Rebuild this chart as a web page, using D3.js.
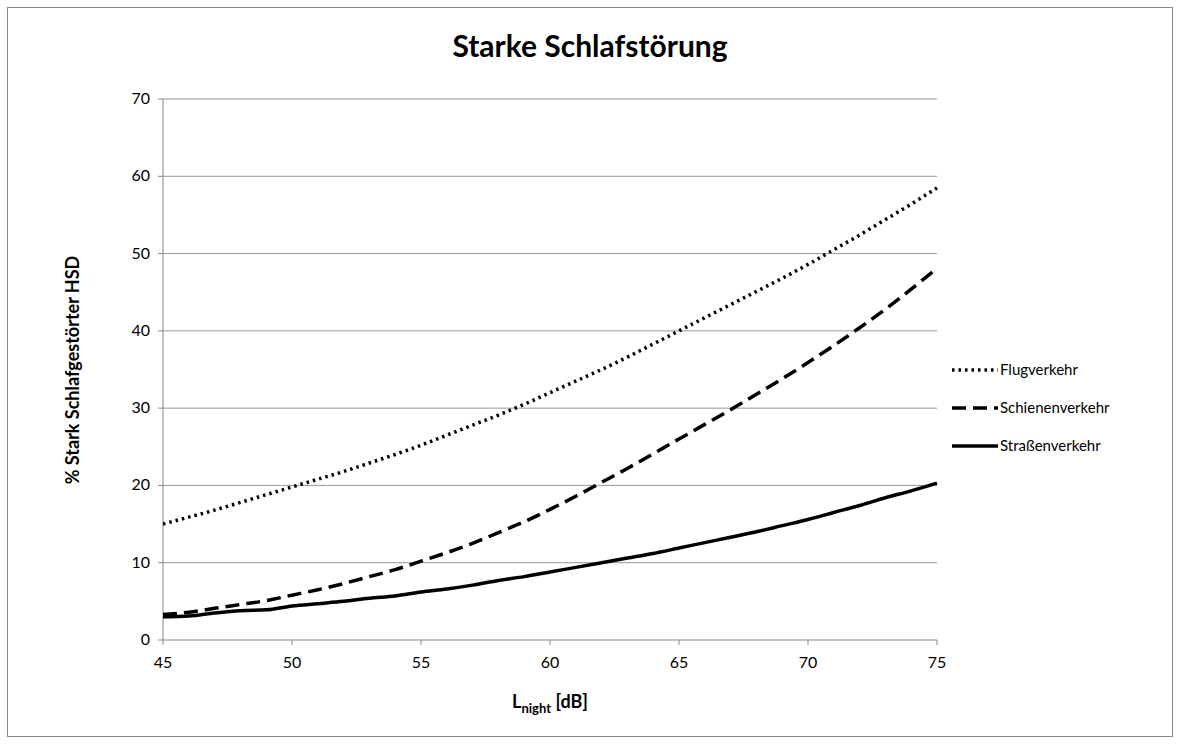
<!DOCTYPE html><html><head><meta charset="utf-8"><script src="https://cdn.jsdelivr.net/npm/d3@7"></script>
<style>body{margin:0;background:#fff;font-family:Lato,"Open Sans",sans-serif}</style></head><body><svg id="c" width="1180" height="746"></svg>
<script>
const xs=[45,46,47,48,49,50,51,52,53,54,55,56,57,58,59,60,61,62,63,64,65,66,67,68,69,70,71,72,73,74,75];
const flug=[15,15.9,16.8,17.8,18.8,19.8,20.8,21.8,22.9,24.0,25.2,26.5,27.8,29.1,30.5,32.0,33.5,35.0,36.6,38.3,40.0,41.7,43.4,45.1,46.8,48.6,50.5,52.4,54.4,56.4,58.5];
const schiene=[3.3,3.6,4.1,4.6,5.1,5.8,6.5,7.3,8.2,9.1,10.2,11.3,12.5,13.9,15.3,16.9,18.6,20.4,22.2,24.1,26.0,27.9,29.8,31.8,33.8,35.9,38.1,40.4,42.8,45.4,48.1];
const strasse=[3.0,3.1,3.5,3.8,3.9,4.4,4.7,5.0,5.4,5.7,6.2,6.6,7.1,7.7,8.2,8.8,9.4,10.0,10.6,11.2,11.9,12.6,13.3,14.0,14.8,15.6,16.5,17.4,18.4,19.3,20.3];
const series=[{name:"Flugverkehr",v:flug,dash:"2.5,4"},{name:"Schienenverkehr",v:schiene,dash:"14,7"},{name:"Straßenverkehr",v:strasse,dash:null}];
const xTicks=[45,50,55,60,65,70,75], yTicks=[0,10,20,30,40,50,60,70];
const svg=d3.select("#c");
svg.append("rect").attr("x",7.5).attr("y",7.5).attr("width",1165).attr("height",729).attr("fill","#fff").attr("stroke","#888");
const x=d3.scaleLinear().domain([45,75]).range([163,937]);
const y=d3.scaleLinear().domain([0,70]).range([640,99]);
svg.append("g").selectAll("line").data(yTicks).join("line").attr("x1",163).attr("x2",937).attr("y1",d=>y(d)).attr("y2",d=>y(d)).attr("stroke",d=>d===0?"#888":"#999").attr("stroke-width",1);
svg.append("line").attr("x1",163).attr("x2",163).attr("y1",99).attr("y2",640).attr("stroke","#888");
svg.append("g").selectAll("line").data(yTicks).join("line").attr("x1",158).attr("x2",163).attr("y1",d=>y(d)).attr("y2",d=>y(d)).attr("stroke","#888");
svg.append("g").selectAll("line").data(xTicks).join("line").attr("x1",d=>x(d)).attr("x2",d=>x(d)).attr("y1",640).attr("y2",645).attr("stroke","#888");
svg.append("g").selectAll("text").data(yTicks).join("text").attr("x",150).attr("y",d=>y(d)+5).attr("text-anchor","end").attr("font-size",16).text(d=>d);
svg.append("g").selectAll("text").data(xTicks).join("text").attr("x",d=>x(d)).attr("y",668).attr("text-anchor","middle").attr("font-size",16).text(d=>d);
const line=d3.line().x((d,i)=>x(xs[i])).y(d=>y(d)).curve(d3.curveMonotoneX);
series.forEach((s,k)=>{
 svg.append("path").attr("d",line(s.v)).attr("fill","none").attr("stroke","#000").attr("stroke-width",3.5).attr("stroke-dasharray",s.dash);
 const ly=370+k*38;
 svg.append("line").attr("x1",952).attr("x2",998).attr("y1",ly).attr("y2",ly).attr("stroke","#000").attr("stroke-width",3.5).attr("stroke-dasharray",s.dash);
 svg.append("text").attr("x",1000).attr("y",ly+5).attr("font-size",15).text(s.name);
});
svg.append("text").attr("x",590).attr("y",57).attr("text-anchor","middle").attr("font-size",30).attr("font-weight","bold").text("Starke Schlafstörung");
const xl=svg.append("text").attr("x",550).attr("y",708).attr("text-anchor","middle").attr("font-size",18).attr("font-weight","bold");
xl.append("tspan").text("L");xl.append("tspan").attr("font-size",13).attr("dy",5).text("night");xl.append("tspan").attr("dy",-5).text(" [dB]");
svg.append("text").attr("transform","translate(79,370) rotate(-90)").attr("text-anchor","middle").attr("font-size",18).attr("font-weight","bold").text("% Stark Schlafgestörter HSD");
</script></body></html>
